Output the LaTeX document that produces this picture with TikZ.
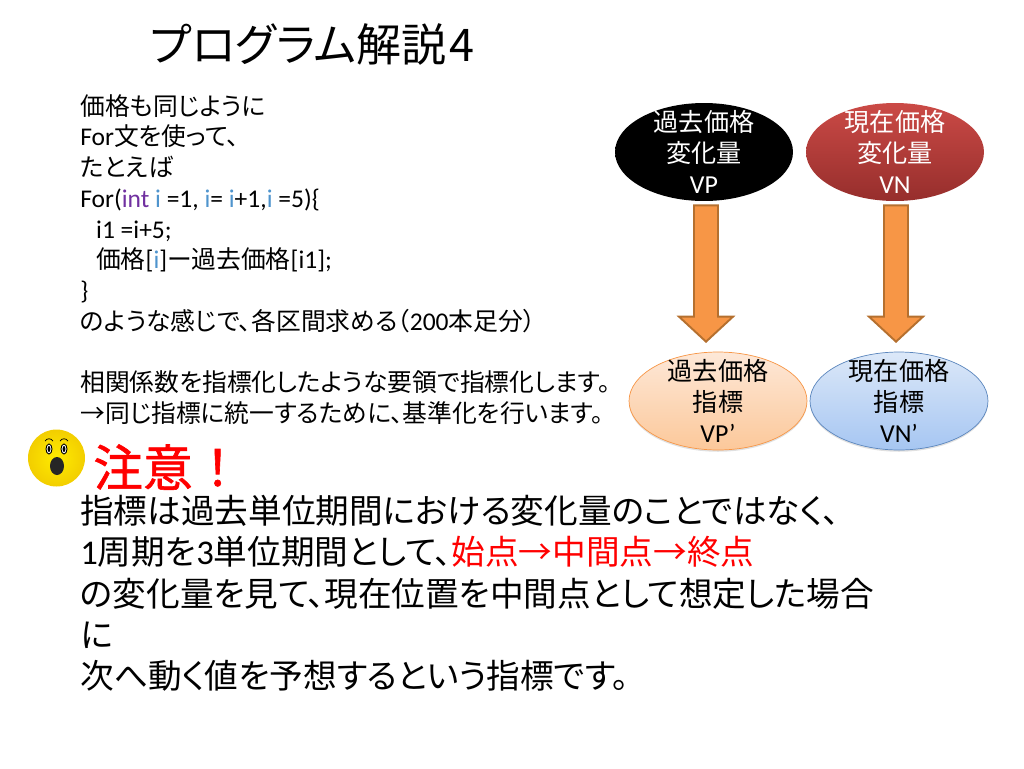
\documentclass[tikz,border=0pt]{standalone}
\usepackage{fontspec}
\setmainfont{Noto Sans CJK JP}[RawFeature=+palt]
\newfontfamily\warnfont{Noto Sans CJK JP}[FakeBold=1.2]
\newfontfamily\en{Carlito}[Scale=1.03]
\usetikzlibrary{calc,shapes.geometric,shadows}
\definecolor{redtop}{HTML}{CB4A46}
\definecolor{redbot}{HTML}{962E2C}
\definecolor{orangefill}{HTML}{F79646}
\definecolor{orangeline}{HTML}{B5702F}
\definecolor{peachtop}{HTML}{FDE8D8}
\definecolor{peachbot}{HTML}{FCC89A}
\definecolor{bluetop}{HTML}{DCE8F8}
\definecolor{bluebot}{HTML}{A6C6F2}
\definecolor{blueline}{HTML}{5B86BD}
\definecolor{kwpurple}{HTML}{7030A0}
\definecolor{kwblue}{HTML}{4F94CD}
\newcommand{\ki}{\textcolor{kwblue}{i}}
\tikzset{
  blob/.style={ellipse,minimum width=3.56cm,minimum height=1.96cm,inner xsep=0pt,inner ysep=-10pt,
    align=center,font=\fontsize{14.3}{17.6}\selectfont},
  upperblob/.style={blob,text=white},
  lowerblob/.style={blob,text=black,general shadow={fill=black!35,opacity=.35,shadow xshift=0pt,shadow yshift=-1pt}},
  textblock/.style={anchor=north west,inner sep=0pt,align=left},
  fatarrow/.style={draw=orangeline,fill=orangefill,line width=1.1pt,line join=miter,
    to path={($(\tikztostart)+(-12,0)$) -- ($(\tikztostart)+(12,0)$) -- ($(\tikztotarget)+(12,-25)$)
      -- ($(\tikztotarget)+(27,-25)$) -- (\tikztotarget) -- ($(\tikztotarget)+(-27,-25)$)
      -- ($(\tikztotarget)+(-12,-25)$) -- cycle}}
}
\begin{document}
\begin{tikzpicture}[x=0.02cm,y=-0.02cm]
  \useasboundingbox (0,0) rectangle (1024,768);
  % title
  \node[textblock,font=\fontsize{25.6}{30}\selectfont] (title) at (150,23) {プログラム解説\hspace{2pt}4};
  % upper text
  \node[textblock,font=\fontsize{14.1}{17.5}\selectfont] (code) at (80,94) {%
    価格も同じように\\
    {\en For}文を使って、\\
    たとえば\\
    {\en For(\textcolor{kwpurple}{int} \ki{} =1, \ki= \ki+1,\ki{} =5)\{}\\
    \hspace{9pt}{\en i1 =i+5;}\\
    \hspace{9pt}価格{\en [\ki]}ー過去価格{\en [i1];}\\
    {\en \}}\\
    のような感じで、各区間求める（{\en 200}本足分）\\
    \mbox{}\\
    相関係数を指標化したような要領で指標化します。\\
    →同じ指標に統一するために、基準化を行います。};
  % ovals
  \node[upperblob,top color=black,bottom color=black] (vp) at (704,152) {過去価格\\変化量\\{\en VP}};
  \node[upperblob,top color=redtop,bottom color=redbot] (vn) at (895,152) {現在価格\\変化量\\{\en VN}};
  \node[lowerblob,draw=orangefill,top color=peachtop,bottom color=peachbot] (vpi) at (718,401) {過去価格\\指標\\{\en VP’}};
  \node[lowerblob,draw=blueline,top color=bluetop,bottom color=bluebot] (vni) at (899,401) {現在価格\\指標\\{\en VN’}};
  % arrows
  \coordinate (vptip) at ($(vp.south |- vpi.north)+(2,-10)$);
  \coordinate (vntip) at ($(vn.south |- vni.north)+(1,-10)$);
  \draw[fatarrow] ($(vp.south)+(2,4)$) to (vptip);
  \draw[fatarrow] ($(vn.south)+(1,4)$) to (vntip);
  % face
  \node[circle,minimum size=1.14cm,inner sep=0pt,draw=none,inner color=yellow!85!orange,outer color=yellow!70!orange!95!black] (face) at (56.5,458) {};
  \fill[white,draw=black,line width=.5pt] (49,449) ellipse (3 and 5);
  \fill[white,draw=black,line width=.5pt] (64,449) ellipse (3 and 5);
  \fill[black] (49,449) ellipse (1.4 and 3);
  \fill[black] (64,449) ellipse (1.4 and 3);
  \fill[black!85] (57,466) ellipse (7 and 9);
  \draw[black,line width=.4pt] (45,441) .. controls (47,438) and (51,438) .. (53,441);
  \draw[black,line width=.4pt] (60,441) .. controls (62,438) and (66,438) .. (68,441);
  % warning
  \node[textblock,font=\warnfont\fontsize{28.3}{32}\selectfont,text=red] (warn) at (93,444) {注意！};
  \node[textblock,font=\fontsize{19.15}{23.5}\selectfont] (note) at (80,495) {%
    指標は過去単位期間における変化量のことではなく、\\
    {\en 1}周期を{\en 3}単位期間として、\textcolor{red}{始点→中間点→終点}\\
    の変化量を見て、現在位置を中間点として想定した場合\\
    に\\
    次へ動く値を予想するという指標です。};
\end{tikzpicture}
\end{document}
